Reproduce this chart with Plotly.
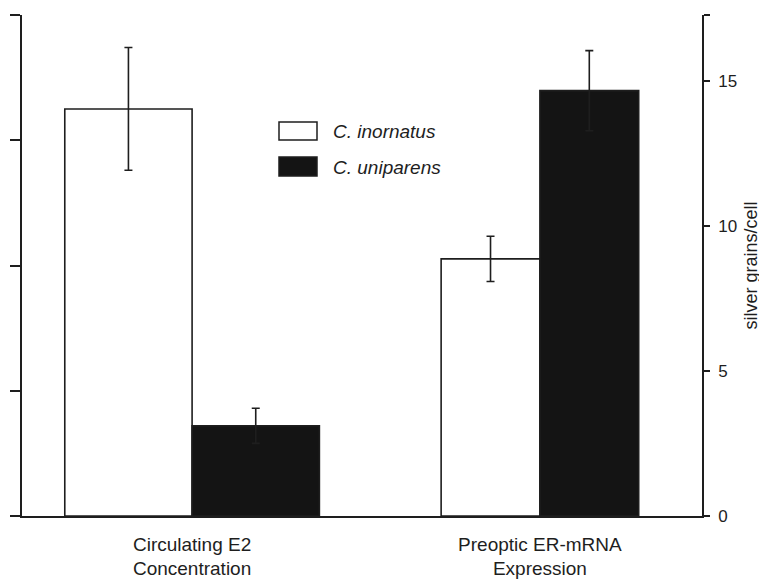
import plotly.graph_objects as go

# ---- data ----
categories = ["Circulating E2<br>Concentration", "Preoptic ER-mRNA<br>Expression"]
series_names = ["C. inornatus", "C. uniparens"]
# group 1 is on the (unlabelled) left axis, group 2 on the right axis (silver grains/cell)
inornatus_mean = [3.25, 8.87]
inornatus_err = [0.49, 0.78]
uniparens_mean = [0.72, 14.67]
uniparens_err = [0.14, 1.38]
left_ticks = [0, 1, 2, 3, 4]
right_ticks = [0, 5, 10, 15]
right_ticktext = ["0", "5", "10", "15"]
right_top = 17.28
left_top = 4

# ---- styling ----
INK = "#1e1e1e"
FONT = "Liberation Sans, Arial, Helvetica, sans-serif"
group_width = [0.366, 0.284]

fig = go.Figure()
for i, cat in enumerate(categories):
    yax = "y" if i == 0 else "y2"
    w = group_width[i]
    fig.add_trace(go.Bar(
        x=[i], y=[inornatus_mean[i]], width=[w], offset=[-w],
        marker=dict(color="white", line=dict(color=INK, width=1.6)),
        error_y=dict(type="data", array=[inornatus_err[i]], color=INK, thickness=1.6, width=4),
        yaxis=yax, showlegend=False, name=series_names[0]))
    fig.add_trace(go.Bar(
        x=[i], y=[uniparens_mean[i]], width=[w], offset=[0],
        marker=dict(color="#141414", line=dict(color=INK, width=1.6)),
        error_y=dict(type="data", array=[uniparens_err[i]], color=INK, thickness=1.6, width=4),
        yaxis=yax, showlegend=False, name=series_names[1]))

# page has an 8px body margin; figure sized so the plot lands where the reference has it
OFF = 8
W, H = 767 - OFF, 581 - OFF
L, R, T, B = 14, 65, 7, 65
PW, PH = W - L - R, H - T - B
def px(xp):
    return (xp - OFF - L) / PW
def py(yp):
    return (OFF + T + PH - yp) / PH

fig.add_shape(type="rect", xref="paper", yref="paper",
              x0=px(279), x1=px(317), y0=py(140), y1=py(122),
              line=dict(color=INK, width=1.5), fillcolor="white")
fig.add_shape(type="rect", xref="paper", yref="paper",
              x0=px(279), x1=px(317), y0=py(176), y1=py(157),
              line=dict(color=INK, width=1.5), fillcolor="#141414")
for name, yc in zip(series_names, [131, 167]):
    fig.add_annotation(xref="paper", yref="paper", x=px(331), y=py(yc),
                       text=f"<i>{name}</i>", showarrow=False,
                       xanchor="left", yanchor="middle",
                       font=dict(family=FONT, size=19, color=INK))

fig.update_layout(
    width=W, height=H,
    margin=dict(l=L, r=R, t=T, b=B, autoexpand=False),
    paper_bgcolor="white", plot_bgcolor="white",
    barmode="overlay",
    font=dict(family=FONT, size=17, color=INK),
    xaxis=dict(range=[-0.489, 1.466], tickvals=[0, 1], ticktext=categories,
               showline=True, linecolor=INK, linewidth=1.6, ticks="",
               showgrid=False, zeroline=False, ticklabelstandoff=10,
               tickfont=dict(family=FONT, size=19, color=INK)),
    yaxis=dict(range=[0, left_top], tickvals=left_ticks, showticklabels=False,
               ticks="outside", ticklen=10, tickwidth=1.6, tickcolor=INK,
               showline=True, linecolor=INK, linewidth=1.6,
               showgrid=False, zeroline=False),
    yaxis2=dict(range=[0, right_top], overlaying="y", side="right",
                tickvals=right_ticks + [right_top], ticktext=right_ticktext + [""],
                ticks="outside", ticklen=6, tickwidth=1.6, tickcolor=INK,
                showline=True, linecolor=INK, linewidth=1.6,
                showgrid=False, zeroline=False, ticklabelstandoff=5,
                tickfont=dict(family=FONT, size=17, color=INK),
                title=dict(text="silver grains/cell", standoff=8,
                           font=dict(family=FONT, size=18, color=INK))),
)

fig.write_html("out.html")
